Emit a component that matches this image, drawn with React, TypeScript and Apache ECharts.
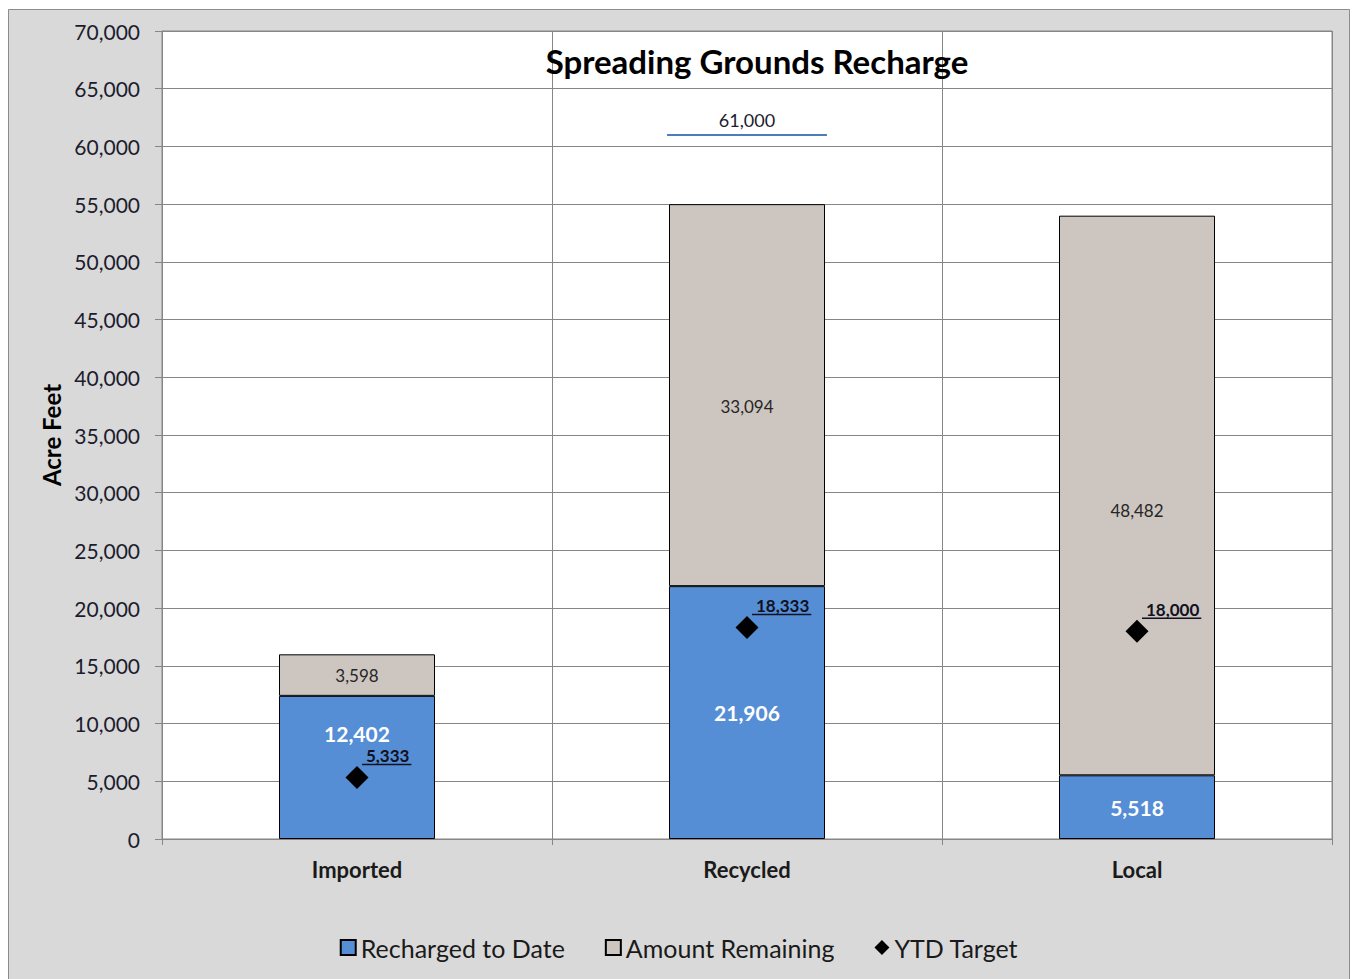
import React, { useEffect, useRef } from "react";
import * as echarts from "echarts";

const categories = ["Imported", "Recycled", "Local"];
const rechargedToDate = [12402, 21906, 5518];
const amountRemaining = [3598, 33094, 48482];
const ytdTarget = [5333, 18333, 18000];
const annualTarget: (number | null)[] = [null, 61000, null];
const yMin = 0;
const yMax = 70000;
const yInterval = 5000;

const fmt = (v: number) => Number(v).toLocaleString("en-US");

let measureCtx: CanvasRenderingContext2D | null = null;
const measure = (text: string, font: string) => {
  if (!measureCtx) measureCtx = document.createElement("canvas").getContext("2d");
  if (!measureCtx) return text.length * 9;
  measureCtx.font = font;
  return measureCtx.measureText(text).width;
};

const FONT = "Lato, 'Noto Sans', sans-serif";
const TEXT_DARK = "#1c1c2e";
const GRID_COLOR = "#868686";

export default function App() {
  const ref = useRef<HTMLDivElement>(null);

  useEffect(() => {
    if (!ref.current) return;
    const chart = echarts.init(ref.current, null, { renderer: "svg" });

    const ytdData = ytdTarget.map((v, i) => [i, v]);
    const annualData = annualTarget
      .map((v, i) => (v == null ? null : [i, v]))
      .filter((d) => d != null);

    const rechargedOffsets = [[0, -34], [0, 0], [0, 0]];
    const remainingOffsets = [[0, 0], [0, 11], [0, 15]];

    const option: any = {
      animation: false,
      backgroundColor: "#d9d9d9",
      textStyle: { fontFamily: FONT },
      graphic: [
        {
          type: "rect",
          shape: { x: 0.5, y: 0.5, width: 1341, height: 974 },
          style: { fill: "none", stroke: "#8c8c8c", lineWidth: 1 },
          silent: true,
          z: 100,
        },
        {
          type: "text",
          x: 749,
          y: 52,
          z: 100,
          style: {
            text: "Spreading Grounds Recharge",
            font: `bold 33px ${FONT}`,
            fill: "#000",
            textAlign: "center",
            align: "center",
            textVerticalAlign: "middle",
            verticalAlign: "middle",
          },
        },
      ],
      grid: {
        left: 154,
        right: 18,
        top: 22,
        bottom: 145,
        show: true,
        backgroundColor: "#ffffff",
        borderColor: GRID_COLOR,
        borderWidth: 1,
      },
      legend: {
        top: 921,
        left: "center",
        itemGap: 40,
        itemWidth: 15,
        itemHeight: 15,
        textStyle: { fontFamily: FONT, fontSize: 25, color: "#1a1a1a" },
        data: [
          { name: "Recharged to Date", icon: "rect" },
          { name: "Amount Remaining", icon: "rect" },
          { name: "YTD Target", icon: "diamond", itemStyle: { color: "#000" } },
        ],
      },
      xAxis: {
        type: "category",
        data: categories,
        axisLine: { show: true, lineStyle: { color: GRID_COLOR } },
        axisTick: { show: true, length: 6, lineStyle: { color: GRID_COLOR } },
        splitLine: { show: true, lineStyle: { color: GRID_COLOR } },
        axisLabel: {
          margin: 19,
          fontFamily: FONT,
          fontSize: 22,
          fontWeight: "bold",
          color: "#1a1a1a",
        },
      },
      yAxis: {
        type: "value",
        min: yMin,
        max: yMax,
        interval: yInterval,
        name: "Acre Feet",
        nameLocation: "middle",
        nameRotate: 90,
        nameGap: 99,
        nameTextStyle: {
          fontFamily: FONT,
          fontSize: 24,
          fontWeight: "bold",
          color: "#000",
        },
        axisLine: { show: true, lineStyle: { color: GRID_COLOR } },
        axisTick: { show: true, length: 7, lineStyle: { color: GRID_COLOR } },
        splitLine: { show: true, lineStyle: { color: GRID_COLOR } },
        axisLabel: {
          margin: 22,
          fontFamily: FONT,
          fontSize: 21,
          color: TEXT_DARK,
          formatter: (v: number) => fmt(v),
        },
      },
      series: [
        {
          name: "Recharged to Date",
          type: "bar",
          stack: "total",
          barWidth: "40%",
          data: rechargedToDate.map((v, i) => ({
            value: v,
            label: { offset: rechargedOffsets[i] },
          })),
          itemStyle: { color: "#558ed5", borderColor: "#000", borderWidth: 1 },
          label: {
            show: true,
            position: "inside",
            color: "#fff",
            fontFamily: FONT,
            fontWeight: "bold",
            fontSize: 21,
            formatter: (p: any) => fmt(p.value),
          },
          z: 2,
        },
        {
          name: "Amount Remaining",
          type: "bar",
          stack: "total",
          barWidth: "40%",
          data: amountRemaining.map((v, i) => ({
            value: v,
            label: { offset: remainingOffsets[i] },
          })),
          itemStyle: { color: "#cdc5bf", borderColor: "#000", borderWidth: 1 },
          label: {
            show: true,
            position: "inside",
            color: "#262626",
            fontFamily: FONT,
            fontSize: 17,
            formatter: (p: any) => fmt(p.value),
          },
          z: 2,
        },
        {
          name: "YTD Target",
          type: "scatter",
          symbol: "diamond",
          symbolSize: 23,
          data: ytdData,
          itemStyle: { color: "#000", opacity: 1 },
          z: 5,
        },
        {
          name: "YTD Target Labels",
          type: "custom",
          data: ytdData,
          encode: { x: 0, y: 1 },
          z: 6,
          renderItem: (params: any, api: any) => {
            const c = api.coord([api.value(0), api.value(1)]);
            const text = fmt(api.value(1));
            const font = `bold 17px ${FONT}`;
            const w = measure(text, font);
            return {
              type: "group",
              children: [
                {
                  type: "text",
                  x: c[0] + 9,
                  y: c[1] - 22,
                  style: {
                    text,
                    font,
                    fill: "#111122",
                    textAlign: "left",
                    align: "left",
                    textVerticalAlign: "middle",
                    verticalAlign: "middle",
                  },
                },
                {
                  type: "line",
                  shape: { x1: c[0] + 5, y1: c[1] - 13, x2: c[0] + 11 + w, y2: c[1] - 13 },
                  style: { stroke: "#111122", lineWidth: 1.5 },
                },
              ],
            };
          },
        },
        {
          name: "Annual Target",
          type: "custom",
          data: annualData,
          encode: { x: 0, y: 1 },
          z: 6,
          renderItem: (params: any, api: any) => {
            const c = api.coord([api.value(0), api.value(1)]);
            const w = api.size([1, 0])[0] * 0.41;
            return {
              type: "group",
              children: [
                {
                  type: "line",
                  shape: { x1: c[0] - w / 2, y1: c[1], x2: c[0] + w / 2, y2: c[1] },
                  style: { stroke: "#4a7ebb", lineWidth: 2 },
                },
                {
                  type: "text",
                  x: c[0],
                  y: c[1] - 15,
                  style: {
                    text: fmt(api.value(1)),
                    font: `18px ${FONT}`,
                    fill: TEXT_DARK,
                    textAlign: "center",
                    align: "center",
                    textVerticalAlign: "middle",
                    verticalAlign: "middle",
                  },
                },
              ],
            };
          },
        },
      ],
    };

    chart.setOption(option);
    return () => chart.dispose();
  }, []);

  return (
    <div
      ref={ref}
      style={{ position: "fixed", left: 8, top: 9, width: 1342, height: 975 }}
    />
  );
}
